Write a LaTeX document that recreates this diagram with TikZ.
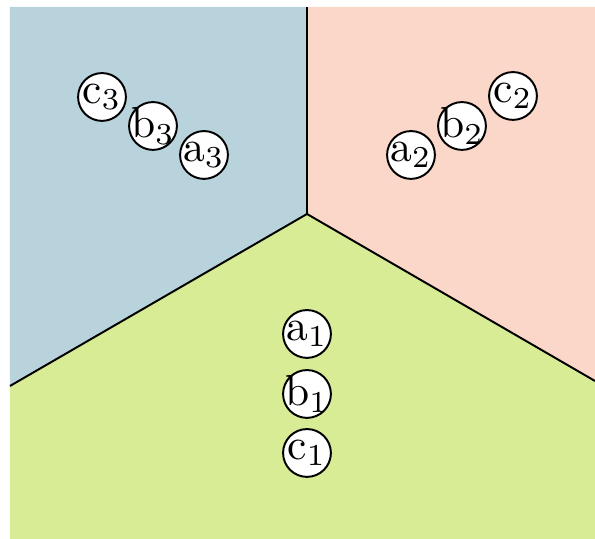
\documentclass[tikz,border=0pt]{standalone}
\definecolor{regionA}{RGB}{216,235,149}
\definecolor{regionB}{RGB}{250,215,200}
\definecolor{regionC}{RGB}{185,211,220}
\tikzset{
  elem/.style={circle,draw=black,fill=white,line width=0.45pt,minimum size=11pt,inner sep=0pt},
  lbl/.style={inner sep=0pt,font=\fontsize{10}{12}\selectfont},
  border/.style={line width=0.45pt,draw=black}
}
\newcommand{\element}[3]{%
  \node[elem] (#1) at (#2) {};
  \node[lbl] at (#1) {#3};}
\begin{document}
\begin{tikzpicture}[x=0.23pt,y=-0.23pt]
  \useasboundingbox (0,0) rectangle (595,539);
  % three sectors around the centre
  \coordinate (o) at (307,214);
  \coordinate (top) at (307,7);
  \coordinate (left) at (10,386);
  \coordinate (right) at (595,381);
  \fill[regionC] (10,7) -- (top) -- (o) -- (left) -- cycle;
  \fill[regionB] (top) -- (595,7) -- (right) -- (o) -- cycle;
  \fill[regionA] (left) -- (o) -- (right) -- (595,539) -- (10,539) -- cycle;
  \draw[border] (top) -- (o);
  \draw[border] (o) -- (left);
  \draw[border] (o) -- (right);
  % elements
  \element{a1}{307,334}{a$_1$}
  \element{b1}{307,394}{b$_1$}
  \element{c1}{307,453}{c$_1$}
  \element{a2}{411,155}{a$_2$}
  \element{b2}{462,126}{b$_2$}
  \element{c2}{513,96}{c$_2$}
  \element{a3}{204,155}{a$_3$}
  \element{b3}{153,126}{b$_3$}
  \element{c3}{102,97}{c$_3$}
\end{tikzpicture}
\end{document}
